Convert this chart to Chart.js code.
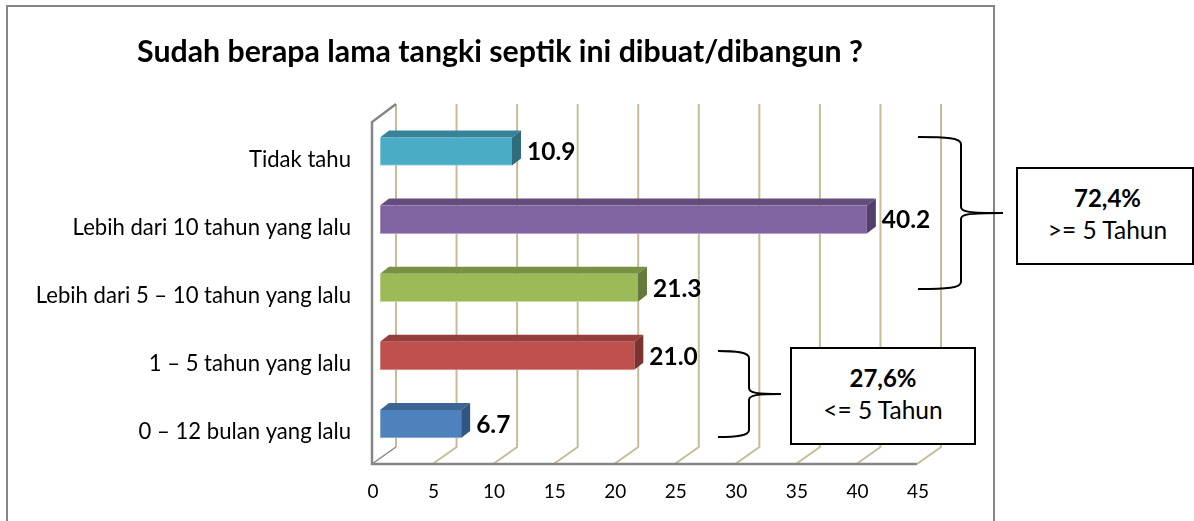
<!DOCTYPE html>
<html><head><meta charset="utf-8">
<script src="https://cdn.jsdelivr.net/npm/chart.js@4"></script>
<style>
html,body{margin:0;padding:0;background:#fff;overflow:hidden}
#wrap{position:relative;width:1194px;height:521px}
canvas{position:absolute;left:0;top:0}
.box{position:absolute;box-sizing:border-box;border:2px solid #000;background:#fff;font-family:Lato,sans-serif;color:#000;text-align:center;font-size:24.5px;line-height:32px}
.box b{display:block;font-size:24px}
</style></head><body>
<div id="wrap"><canvas id="c" width="1194" height="521"></canvas>
<div class="box" style="left:1016px;top:167px;width:178px;height:98px;padding-top:13px;padding-left:5px"><b>72,4%</b>&gt;= 5 Tahun</div>
<div class="box" style="left:790px;top:347px;width:186px;height:98px;padding-top:13px"><b>27,6%</b>&lt;= 5 Tahun</div>
</div>
<script>
const titleText='Sudah berapa lama tangki septik ini dibuat/dibangun ?';
const categories=['Tidak tahu','Lebih dari 10 tahun yang lalu','Lebih dari 5 – 10 tahun yang lalu','1 – 5 tahun yang lalu','0 – 12 bulan yang lalu'];
const values=[10.9,40.2,21.3,21.0,6.7];
const valueLabels=['10.9','40.2','21.3','21.0','6.7'];
const frontColors=['#4BACC6','#8064A2','#9BBB59','#C0504D','#4F81BD'];
const topColors=['#38839A','#644C7F','#799145','#963E3B','#3C6594'];
const sideColors=['#316B7E','#533F6B','#657A3A','#7E3331','#335581'];
const edgeColors=['#A5D5E2','#B5A3CB','#C7DA9C','#DE9E9C','#9DB9DC'];

const DX=9, DY=7;              // bar depth
const BACK=16, FRONT=-8;       // wall offsets from the value pixel
const GRID_TOP=104, GRID_BOTTOM=447, FLOOR=464;

const scene={
  id:'scene',
  afterLayout(chart){
    // centre the title over the framed chart rather than over the canvas
    const t=chart.titleBlock;
    if(t){t.left=137;t.right=863;}
  },
  beforeDatasetsDraw(chart){
    const c=chart.ctx, x=chart.scales.x;
    c.save();
    // outer frame
    c.strokeStyle='#868686'; c.lineWidth=2;
    c.beginPath(); c.moveTo(7,522); c.lineTo(7,6); c.lineTo(994,6); c.lineTo(994,522); c.stroke();
    // grid and floor
    c.lineCap='butt';
    x.ticks.forEach((t,i)=>{
      const p=x.getPixelForTick(i);
      if(i===0) return;
      c.strokeStyle='#C4BD97'; c.lineWidth=2;
      c.beginPath(); c.moveTo(p+BACK,GRID_TOP); c.lineTo(p+BACK,GRID_BOTTOM); c.lineTo(p+FRONT,FLOOR); c.stroke();
    });
    const p0=x.getPixelForValue(0), pe=x.getPixelForValue(45);
    c.strokeStyle='#C4BD97'; c.lineWidth=2;
    c.beginPath(); c.moveTo(p0+BACK,GRID_TOP); c.lineTo(p0+BACK,GRID_BOTTOM); c.stroke();
    c.strokeStyle='#868686'; c.lineWidth=1.5;
    c.beginPath(); c.moveTo(p0+BACK,GRID_BOTTOM); c.lineTo(p0+FRONT,FLOOR); c.stroke();
    c.lineWidth=2.5; c.strokeStyle='#868686';
    c.beginPath();
    c.moveTo(p0+BACK,GRID_TOP); c.lineTo(p0+FRONT,GRID_TOP+18); c.lineTo(p0+FRONT,FLOOR); c.lineTo(pe+FRONT,FLOOR);
    c.stroke();
    // 3D sides of the bars
    chart.getDatasetMeta(0).data.forEach((b,i)=>{
      const l=b.base, r=b.x, t=b.y-b.height/2, bt=b.y+b.height/2;
      c.fillStyle=topColors[i];
      c.beginPath(); c.moveTo(l,t); c.lineTo(l+DX,t-DY); c.lineTo(r+DX,t-DY); c.lineTo(r,t); c.closePath(); c.fill();
      c.fillStyle=sideColors[i];
      c.beginPath(); c.moveTo(r,t); c.lineTo(r+DX,t-DY); c.lineTo(r+DX,bt-DY); c.lineTo(r,bt); c.closePath(); c.fill();
    });
    c.restore();
  },
  afterDatasetsDraw(chart){
    const c=chart.ctx;
    c.save();
    // value labels
    c.fillStyle='#000'; c.font='bold 24.5px Lato'; c.textAlign='left'; c.textBaseline='middle';
    chart.getDatasetMeta(0).data.forEach((b,i)=>c.fillText(valueLabels[i],b.x+15,b.y+1));
    // braces
    c.strokeStyle='#000'; c.lineWidth=2;
    const brace=(x0,xm,tip,top,mid,bot)=>{
      c.beginPath();
      c.moveTo(x0,top);
      c.bezierCurveTo(xm-14,top,xm,top+1,xm,top+7);
      c.lineTo(xm,mid-6);
      c.bezierCurveTo(xm,mid-1,xm+8,mid,tip,mid);
      c.bezierCurveTo(xm+8,mid,xm,mid+1,xm,mid+6);
      c.lineTo(xm,bot-7);
      c.bezierCurveTo(xm,bot-1,xm-14,bot,x0,bot);
      c.stroke();
    };
    brace(918,961,1003,137,213,289);
    brace(718,749,781,351,394,437);
    c.restore();
  }
};

new Chart(document.getElementById('c'),{
  type:'bar',
  data:{labels:categories,datasets:[{data:values,backgroundColor:frontColors,borderColor:edgeColors,borderWidth:{left:1,bottom:1},borderSkipped:false,barThickness:28}]},
  plugins:[scene],
  options:{
    indexAxis:'y',responsive:false,animation:false,
    layout:{padding:{left:0,right:269,top:0,bottom:0}},
    plugins:{
      legend:{display:false},tooltip:{enabled:false},
      title:{display:true,text:titleText,color:'#000',font:{family:'Lato',size:30.3,weight:'bold'},padding:{top:34,bottom:47}}
    },
    scales:{
      x:{min:0,max:45,
        ticks:{stepSize:5,color:'#000',font:{family:'Lato',size:19},padding:14,labelOffset:-7,maxRotation:0},
        grid:{display:false},border:{display:false},
        afterFit(s){s.height=63;}},
      y:{
        ticks:{color:'#000',font:{family:'Lato',size:22.1},padding:29,labelOffset:8,autoSkip:false},
        grid:{display:false,drawTicks:false},border:{display:false},
        afterFit(s){s.width=380;}}
    }
  }
});
</script></body></html>
